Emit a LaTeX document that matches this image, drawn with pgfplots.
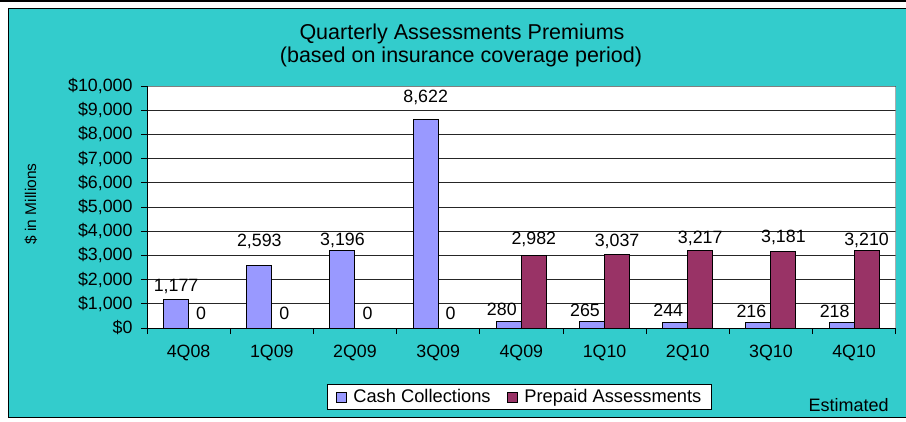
\documentclass[border=0pt]{standalone}
\usepackage{pgfplots}
\pgfplotsset{compat=1.18}
\usepackage{fontspec}
\setmainfont{Liberation Sans}
\definecolor{bgteal}{HTML}{33CCCC}
\definecolor{cash}{HTML}{9999FF}
\definecolor{prep}{HTML}{993366}
\begin{document}
\begin{tikzpicture}[x=1pt,y=1pt]
\useasboundingbox (0,0) rectangle (906,-421);
\fill[white] (0,0) rectangle (906,-421);
\draw[black,line width=1.5pt] (0,-1) -- (906,-1);
\fill[bgteal] (8,-8) rectangle (906,-417);
\draw[black,line width=1pt] (906,-8) -- (8,-8) -- (8,-417) -- (906,-417);
\node[anchor=base,font=\fontsize{21.5}{25}\selectfont] at (462,-39) {Quarterly Assessments Premiums};
\node[anchor=base,font=\fontsize{21.5}{25}\selectfont] at (461,-62) {(based on insurance coverage period)};
\node[rotate=90,font=\fontsize{15.5}{18}\selectfont] at (31,-204) {\$ in Millions};
\node[anchor=base west,font=\fontsize{18}{20}\selectfont] at (805,-411) {Estimated};
\begin{axis}[
  at={(147pt,-328pt)}, anchor=south west,
  scale only axis, width=748.7pt, height=242pt,
  xmin=-0.5, xmax=8.5, ymin=0, ymax=10000,
  scaled y ticks=false,
  ybar=0pt, bar width=25pt,
  every axis plot post/.append style={legend image code/.code={\draw[##1,draw=black,line width=0.8pt] (0pt,-5pt) rectangle (10pt,5pt);}},
  axis background/.style={fill=white},
  axis line style={draw=none},
  ymajorgrids, grid style={black!85, line width=0.8pt},
  ytick={0,1000,...,10000},
  yticklabels={{\$0},{\$1,000},{\$2,000},{\$3,000},{\$4,000},{\$5,000},{\$6,000},{\$7,000},{\$8,000},{\$9,000},{\$10,000}},
  xtick={0,...,8},
  xticklabels={4Q08,1Q09,2Q09,3Q09,4Q09,1Q10,2Q10,3Q10,4Q10},
  minor xtick={-0.5,0.5,...,8.5},
  major x tick style={draw=none},
  xtick pos=bottom, ytick pos=left,
  tick align=outside, major tick length=6pt, minor tick length=6pt,
  tick style={black, line width=0.8pt},
  y tick label style={font=\fontsize{17.8}{20}\selectfont, xshift=-5pt},
  x tick label style={font=\fontsize{17.8}{20}\selectfont, yshift=-8pt},
  nodes near coords,
  every node near coord/.append style={font=\fontsize{17.8}{20}\selectfont, text depth=0pt, inner sep=0pt, yshift=8pt, black},
  /pgf/number format/.cd, fixed, precision=0, 1000 sep={,}, assume math mode=true, /pgfplots/.cd,
  legend columns=2,
  legend style={at={(0.4975,-0.285)}, anchor=center, draw=black, line width=0.8pt, fill=white,
    font=\fontsize{18.3}{20}\selectfont, inner xsep=8pt, inner ysep=3pt,
    /tikz/every odd column/.append style={column sep=5pt},
    /tikz/every even column/.append style={column sep=14pt}},
  legend cell align=left,
]
\addplot[fill=cash, draw=black, line width=1pt,
  coordinate style/.condition={y<1000}{xshift=-7pt, yshift=-3pt},
  coordinate style/.condition={x==1}{yshift=10pt},
  coordinate style/.condition={x==2}{yshift=-3pt},
  coordinate style/.condition={x==3}{yshift=8.5pt}] coordinates {(0,1177) (1,2593) (2,3196) (3,8622) (4,280) (5,265) (6,244) (7,216) (8,218)};
\addplot[fill=prep, draw=black, line width=1pt,
  coordinate style/.condition={x==4}{yshift=3pt},
  coordinate style/.condition={x==6}{yshift=-2pt},
  coordinate style/.condition={x==8}{yshift=-3.5pt}] coordinates {(0,0) (1,0) (2,0) (3,0) (4,2982) (5,3037) (6,3217) (7,3181) (8,3210)};
\legend{Cash Collections, Prepaid Assessments}
\draw[gray, line width=1.5pt] (rel axis cs:0,1) -- (rel axis cs:1,1) -- (rel axis cs:1,0);
\draw[black, line width=1pt] (rel axis cs:0,1) -- (rel axis cs:0,0) -- (rel axis cs:1,0);
\end{axis}
\end{tikzpicture}
\end{document}
